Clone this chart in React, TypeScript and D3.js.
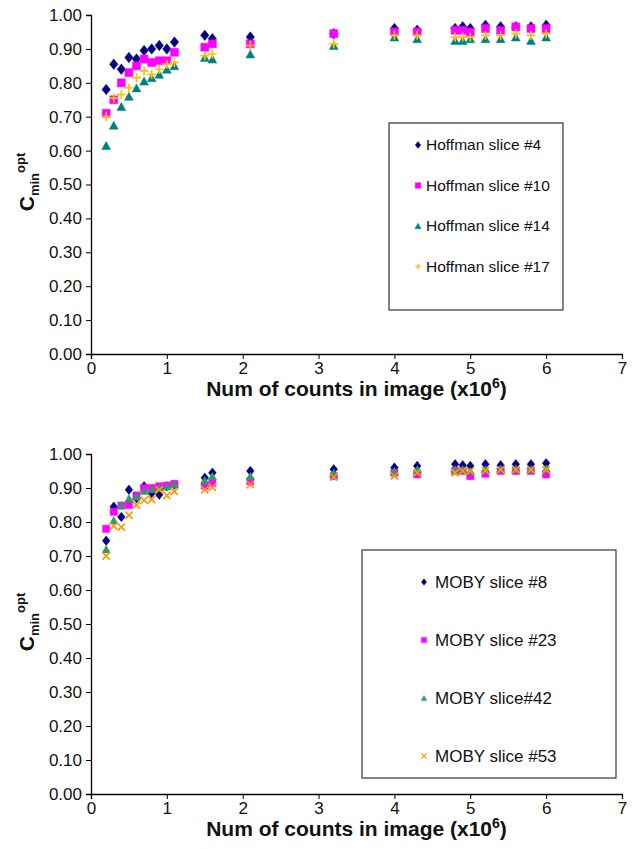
import React, { useEffect, useRef } from 'react';
import * as d3 from 'd3';

// counts in image (x10^6), shared by every series
const counts = [0.2, 0.3, 0.4, 0.5, 0.6, 0.7, 0.8, 0.9, 1.0, 1.1, 1.5, 1.6, 2.1, 3.2, 4.0, 4.3, 4.8, 4.9, 5.0, 5.2, 5.4, 5.6, 5.8, 6.0];

const hoffman4 = [0.78, 0.855, 0.84, 0.875, 0.87, 0.895, 0.9, 0.91, 0.9, 0.92, 0.94, 0.93, 0.935, 0.945, 0.96, 0.955, 0.96, 0.965, 0.96, 0.97, 0.965, 0.965, 0.965, 0.97];
const hoffman10 = [0.71, 0.75, 0.8, 0.83, 0.85, 0.87, 0.86, 0.865, 0.865, 0.89, 0.905, 0.915, 0.915, 0.945, 0.95, 0.95, 0.955, 0.955, 0.95, 0.96, 0.955, 0.965, 0.96, 0.96];
const hoffman14 = [0.615, 0.675, 0.73, 0.76, 0.785, 0.805, 0.815, 0.825, 0.84, 0.85, 0.875, 0.87, 0.885, 0.91, 0.935, 0.93, 0.925, 0.925, 0.93, 0.93, 0.93, 0.935, 0.925, 0.935];
const hoffman17 = [0.7, 0.755, 0.765, 0.785, 0.815, 0.835, 0.825, 0.84, 0.855, 0.86, 0.88, 0.885, 0.91, 0.915, 0.94, 0.94, 0.935, 0.935, 0.935, 0.94, 0.94, 0.945, 0.94, 0.945];

const moby8 = [0.745, 0.845, 0.815, 0.895, 0.87, 0.905, 0.885, 0.88, 0.905, 0.91, 0.93, 0.945, 0.95, 0.955, 0.96, 0.965, 0.97, 0.967, 0.965, 0.97, 0.967, 0.97, 0.97, 0.973];
const moby23 = [0.78, 0.83, 0.848, 0.85, 0.878, 0.9, 0.9, 0.905, 0.907, 0.912, 0.907, 0.915, 0.92, 0.935, 0.945, 0.94, 0.95, 0.95, 0.935, 0.942, 0.95, 0.95, 0.95, 0.94];
const moby42 = [0.72, 0.805, 0.85, 0.87, 0.875, 0.892, 0.897, 0.902, 0.905, 0.912, 0.923, 0.935, 0.935, 0.945, 0.95, 0.955, 0.955, 0.955, 0.95, 0.955, 0.957, 0.957, 0.955, 0.957];
const moby53 = [0.7, 0.788, 0.785, 0.82, 0.85, 0.864, 0.866, 0.895, 0.878, 0.89, 0.895, 0.902, 0.91, 0.932, 0.935, 0.945, 0.945, 0.95, 0.95, 0.951, 0.954, 0.954, 0.954, 0.954];

const hoffmanNames = ["Hoffman slice #4", "Hoffman slice #10", "Hoffman slice #14", "Hoffman slice #17"];
const mobyNames = ["MOBY slice #8", "MOBY slice #23", "MOBY slice#42", "MOBY slice #53"];

const yTicks = [0, 0.1, 0.2, 0.3, 0.4, 0.5, 0.6, 0.7, 0.8, 0.9, 1.0];
const xTicks = [0, 1, 2, 3, 4, 5, 6, 7];

const FONT = "'Liberation Sans', Arial, sans-serif";

// marker path, centred on 0,0; s = half size
const markerPath = (kind, s) => {
    const p = d3.path();
    if (kind === "diamond") {
        p.moveTo(0, -s * 1.25); p.lineTo(s, 0); p.lineTo(0, s * 1.25); p.lineTo(-s, 0); p.closePath();
    } else if (kind === "square") {
        p.rect(-s, -s, 2 * s, 2 * s);
    } else if (kind === "triangle") {
        p.moveTo(0, -s); p.lineTo(s * 1.1, s); p.lineTo(-s * 1.1, s); p.closePath();
    } else if (kind === "plus") {
        p.moveTo(-s, 0); p.lineTo(s, 0); p.moveTo(0, -s); p.lineTo(0, s);
    } else {
        p.moveTo(-s, -s); p.lineTo(s, s); p.moveTo(-s, s); p.lineTo(s, -s);
    }
    return p.toString();
};

const panels = [
    {
        top: 15, bottom: 354,
        series: [
            { name: hoffmanNames[0], values: hoffman4, kind: "diamond", color: "#000080", size: 4.2 },
            { name: hoffmanNames[1], values: hoffman10, kind: "square", color: "#ff00ff", size: 4 },
            { name: hoffmanNames[2], values: hoffman14, kind: "triangle", color: "#008080", size: 4 },
            { name: hoffmanNames[3], values: hoffman17, kind: "plus", color: "#ffc000", size: 4.5 },
        ],
        legend: { x: 389, y: 123, w: 174, h: 187, first: 145, step: 40.5, markX: 418, textX: 426, font: 15.5, mark: 2.8 },
        titleY: 396, yTitleC: 182,
    },
    {
        top: 454, bottom: 794,
        series: [
            { name: mobyNames[0], values: moby8, kind: "diamond", color: "#000080", size: 3.8 },
            { name: mobyNames[1], values: moby23, kind: "square", color: "#ff00ff", size: 3.6 },
            { name: mobyNames[2], values: moby42, kind: "triangle", color: "#339966", size: 3.8 },
            { name: mobyNames[3], values: moby53, kind: "cross", color: "#ff9900", size: 3.6 },
        ],
        legend: { x: 362, y: 550, w: 254, h: 228, first: 582, step: 58, markX: 424, textX: 435, font: 17, mark: 2.6 },
        titleY: 836, yTitleC: 622,
    },
];

const App = () => {
    const ref = useRef(null);

    const graph = () => {
        const svg = d3.select(ref.current);
        svg.selectAll("*").remove();

        const x = d3.scaleLinear().domain([0, 7]).range([91, 622]);

        panels.forEach((panel) => {
            const y = d3.scaleLinear().domain([0, 1]).range([panel.bottom, panel.top]);
            const g = svg.append("g");

            // y axis
            const yAxis = g.append("g")
                .attr("transform", `translate(${x(0)},0)`)
                .call(d3.axisLeft(y).tickValues(yTicks).tickSize(5).tickPadding(4).tickFormat(d3.format(".2f")));
            yAxis.selectAll("text").style("font-family", FONT).style("font-size", "17px").attr("fill", "#111");

            // x axis
            const xAxis = g.append("g")
                .attr("transform", `translate(0,${y(0)})`)
                .call(d3.axisBottom(x).tickValues(xTicks).tickSize(5).tickPadding(3).tickFormat(d3.format("d")));
            xAxis.selectAll("text").style("font-family", FONT).style("font-size", "17px").attr("fill", "#111");
            g.selectAll(".domain").attr("stroke", "#000").attr("stroke-width", 1.3);
            g.selectAll(".tick line").attr("stroke", "#000");

            // points, series in order so the last one sits on top
            panel.series.forEach((s) => {
                const filled = s.kind !== "plus" && s.kind !== "cross";
                g.append("g")
                    .selectAll("path")
                    .data(s.values)
                    .enter().append("path")
                    .attr("transform", (d, i) => `translate(${x(counts[i])},${y(d)})`)
                    .attr("d", markerPath(s.kind, s.size))
                    .attr("fill", filled ? s.color : "none")
                    .attr("stroke", s.color)
                    .attr("stroke-width", filled ? 0.5 : 1.7);
            });

            // legend
            const L = panel.legend;
            g.append("rect")
                .attr("x", L.x).attr("y", L.y).attr("width", L.w).attr("height", L.h)
                .attr("fill", "#fff").attr("stroke", "#333").attr("stroke-width", 1.2);
            const item = g.append("g")
                .selectAll("g")
                .data(panel.series)
                .enter().append("g")
                .attr("transform", (d, i) => `translate(0,${L.first + i * L.step})`);
            item.append("path")
                .attr("transform", `translate(${L.markX},0)`)
                .attr("d", (d) => markerPath(d.kind, L.mark))
                .attr("fill", (d) => (d.kind === "plus" || d.kind === "cross") ? "none" : d.color)
                .attr("stroke", (d) => d.color)
                .attr("stroke-width", (d) => (d.kind === "plus" || d.kind === "cross") ? 1.3 : 0.4);
            item.append("text")
                .attr("x", L.textX)
                .attr("dy", "0.35em")
                .style("font-family", FONT)
                .style("font-size", `${L.font}px`)
                .attr("fill", "#111")
                .text((d) => d.name);

            // x title
            const xt = g.append("text")
                .attr("x", (x(0) + x(7)) / 2)
                .attr("y", panel.titleY)
                .attr("text-anchor", "middle")
                .style("font-family", FONT)
                .style("font-size", "21px")
                .style("font-weight", "bold")
                .attr("fill", "#111");
            xt.append("tspan").text("Num of counts in image (x10");
            xt.append("tspan").attr("dy", -8).style("font-size", "14px").text("6");
            xt.append("tspan").attr("dy", 8).text(")");

            // y title
            const yt = g.append("text")
                .attr("transform", `translate(34,${panel.yTitleC}) rotate(-90)`)
                .attr("text-anchor", "middle")
                .style("font-family", FONT)
                .style("font-weight", "bold")
                .style("font-size", "21px")
                .attr("fill", "#111");
            yt.append("tspan").text("C");
            yt.append("tspan").attr("dy", 5).style("font-size", "13px").text("min");
            yt.append("tspan").attr("dy", -14).style("font-size", "13px").text("opt");
        });
    };

    useEffect(() => graph());
    return (
        <svg ref={ref} width="643" height="849"
            style={{ position: "absolute", left: 0, top: 0, background: "#fff" }}></svg>
    );
};

export default App;
